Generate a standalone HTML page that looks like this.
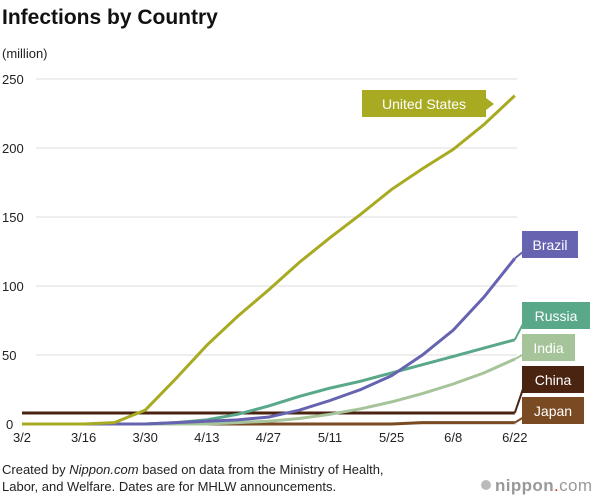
<!DOCTYPE html>
<html><head><meta charset="utf-8"><style>
body{margin:0;background:#fff;font-family:"Liberation Sans",Arial,sans-serif;}
svg{display:block}
</style></head><body>
<svg id="chart" width="600" height="497">
<text x="2" y="24" font-size="21" font-weight="bold" fill="#111">Infections by Country</text>
<text x="2" y="58" font-size="13" fill="#222">(million)</text>
<g id="grid"></g><g id="lines"></g><g id="labels"></g>
<text x="2" y="474" font-size="13" fill="#222">Created by <tspan font-style="italic">Nippon.com</tspan> based on data from the Ministry of Health,</text>
<text x="2" y="491" font-size="13" fill="#222">Labor, and Welfare. Dates are for MHLW announcements.</text>
<circle cx="486" cy="485" r="5" fill="#bbb"/>
<text x="495" y="491" font-size="17" fill="#999" textLength="97"><tspan font-weight="bold">nippon</tspan><tspan fill="#d22">.</tspan>com</text>
</svg>
<script>
const days=[0,7,14,21,28,35,42,49,56,63,70,77,84,91,98,105,112];
const tickDays=[0,14,28,42,56,70,84,98,112];
const tickLabels=["3/2","3/16","3/30","4/13","4/27","5/11","5/25","6/8","6/22"];
const yTicks=[0,50,100,150,200,250];
const usVals=[0,0,0,1,10,33,57,78,97,117,135,152,170,185,199,217,238];
const brazilVals=[0,0,0,0,0,1,2,3,5,10,17,25,35,50,68,92,120];
const russiaVals=[0,0,0,0,0,1,3,7,13,20,26,31,37,43,49,55,61];
const indiaVals=[0,0,0,0,0,0,0,1,2,4,7,11,16,22,29,37,47];
const chinaVals=[8,8,8,8,8,8,8,8,8,8,8,8,8,8,8,8,8];
const japanVals=[0,0,0,0,0,0,0,0,0,0,0,0,0,1,1,1,1];
const X=d=>22+d*4.4, Y=v=>424-v*1.38;
const NS="http://www.w3.org/2000/svg";
function mk(t,a,p){const e=document.createElementNS(NS,t);for(const k in a)e.setAttribute(k,a[k]);p.appendChild(e);return e;}
const grid=document.getElementById('grid'),lines=document.getElementById('lines'),labels=document.getElementById('labels');
yTicks.forEach(v=>{
 const l=mk('line',{x1:36,x2:517,y1:Y(v),y2:Y(v),stroke:'#ddd','stroke-width':1},grid);
 
 
 const t=mk('text',{x:v?2:6,y:Y(v)+5,'font-size':13,fill:'#222'},grid);t.textContent=v;
 
 
});
tickDays.forEach((d,i)=>{
 const t=mk('text',{x:X(d),y:442,'font-size':13,fill:'#222','text-anchor':'middle'},grid);t.textContent=tickLabels[i];
 
 
});
const series=[
 ['japan',japanVals,'#7a4a22','Japan',397,62],
 ['china',chinaVals,'#4a2410','China',366,62],
 ['india',indiaVals,'#a6c49a','India',334,53],
 ['russia',russiaVals,'#5aa88a','Russia',302,68],
 ['brazil',brazilVals,'#6663b0','Brazil',231,56],
 ['us',usVals,'#a8ab22','United States',90,124]];
series.forEach(([id,vals,col,name,by,w])=>{
 const pts=days.map((d,i)=>X(d).toFixed(1)+','+Y(vals[i]).toFixed(1)).join(' ');
 const p=mk('polyline',{points:pts,fill:'none',stroke:col,'stroke-width':3},lines);
 
 
 const bx=id==='us'?362:522;
 const g=mk('g',{},labels);
 
 
 mk('rect',{x:bx,y:by,width:w,height:27,fill:col},g);
 const ex=X(112),ey=Y(vals[vals.length-1]);
 if(id==='us') mk('polygon',{points:`${bx+w},${by+8} ${bx+w+8},${by+14} ${bx+w},${by+20}`,fill:col},g);
 else mk('line',{x1:ex,y1:ey,x2:bx+2,y2:by+20,stroke:col,'stroke-width':2},g);
 const t=mk('text',{x:bx+w/2,y:by+19,'font-size':14,fill:'#fff','text-anchor':'middle'},g);t.textContent=name;
});
</script>
</body></html>
